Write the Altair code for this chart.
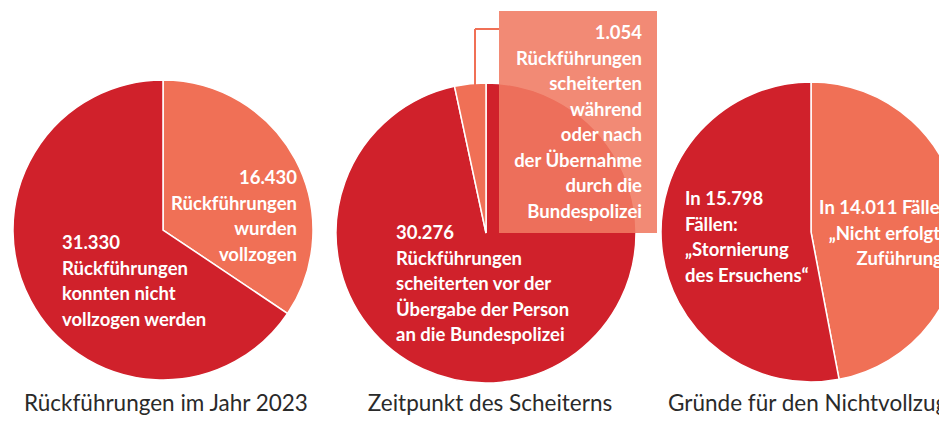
import altair as alt
import pandas as pd

# ---- data ----
pie1_kind = ["vollzogen", "nicht vollzogen"]
pie1_values = [16430, 31330]

pie2_kind = ["vor Übergabe", "nach Übernahme"]
pie2_values = [30276, 1054]

pie3_kind = ["Nicht erfolgte Zuführung", "Stornierung des Ersuchens"]
pie3_values = [14011, 15798]

titles = ["Rückführungen im Jahr 2023", "Zeitpunkt des Scheiterns", "Gründe für den Nichtvollzug"]

label_pie1_a = "16.430\nRückführungen\nwurden\nvollzogen"
label_pie1_b = "31.330\nRückführungen\nkonnten nicht\nvollzogen werden"
label_pie2_a = "30.276\nRückführungen\nscheiterten vor der\nÜbergabe der Person\nan die Bundespolizei"
label_pie2_b = "1.054\nRückführungen\nscheiterten\nwährend\noder nach\nder Übernahme\ndurch die\nBundespolizei"
label_pie3_a = "In 15.798\nFällen:\n„Stornierung\ndes Ersuchens“"
label_pie3_b = "In 14.011 Fällen\n„Nicht erfolgte\nZuführung“"

RED = "#D0212B"
SALMON = "#F07056"
BOX = "#F07A62"
FONT = "Lato"
OFF = 8  # page margin

color_scale = alt.Scale(
    domain=["vollzogen", "nicht vollzogen", "vor Übergabe", "nach Übernahme",
            "Nicht erfolgte Zuführung", "Stornierung des Ersuchens"],
    range=[SALMON, RED, RED, SALMON, SALMON, RED],
)


def pie(kinds, values, cx, cy):
    df = pd.DataFrame({"kind": kinds, "value": values, "order": list(range(len(values)))})
    return alt.Chart(df).mark_arc(radius=150, stroke="white", strokeWidth=1.5).encode(
        theta=alt.Theta("value:Q", stack=True),
        order=alt.Order("order:Q"),
        color=alt.Color("kind:N", scale=color_scale, legend=None),
        x=alt.value(cx - OFF),
        y=alt.value(cy - OFF),
    )


def label(text, x, y, align="left", size=18.5, weight="bold", color="white", lh=25.5):
    df = pd.DataFrame({"t": [text]})
    return alt.Chart(df).mark_text(
        align=align, baseline="alphabetic", font=FONT, fontSize=size,
        fontWeight=weight, color=color, lineBreak="\n", lineHeight=lh,
    ).encode(text="t:N", x=alt.value(x - OFF), y=alt.value(y - OFF))


p1 = pie(pie1_kind, pie1_values, 163, 230)
p2 = pie(pie2_kind, pie2_values, 486, 233)
p3 = pie(pie3_kind, pie3_values, 811, 232)

box = alt.Chart(pd.DataFrame({"a": [0]})).mark_rect(fill=BOX, opacity=0.88).encode(
    x=alt.value(499 - OFF), x2=alt.value(657 - OFF),
    y=alt.value(11 - OFF), y2=alt.value(233 - OFF),
)
conn_v = alt.Chart(pd.DataFrame({"a": [0]})).mark_rule(color=SALMON, strokeWidth=2).encode(
    x=alt.value(475 - OFF), y=alt.value(29 - OFF), y2=alt.value(86 - OFF),
)
conn_h = alt.Chart(pd.DataFrame({"a": [0]})).mark_rule(color=SALMON, strokeWidth=2).encode(
    x=alt.value(475 - OFF), x2=alt.value(499 - OFF), y=alt.value(29 - OFF),
)

texts = [
    label(label_pie1_a, 297, 184, align="right"),
    label(label_pie1_b, 62, 249),
    label(label_pie2_a, 396, 239),
    label(label_pie2_b, 642, 39, align="right"),
    label(label_pie3_a, 685, 205),
    label(label_pie3_b, 950, 214, align="right"),
    label(titles[0], 166, 411, align="center", size=22.5, weight="normal", color="#2a2a2a"),
    label(titles[1], 490, 411, align="center", size=22.5, weight="normal", color="#2a2a2a"),
    label(titles[2], 668, 411, align="left", size=22.5, weight="normal", color="#2a2a2a"),
]

chart = alt.layer(p1, p2, p3, box, conn_v, conn_h, *texts).resolve_scale(
    theta="independent"
).properties(
    width=931, height=408, padding=0,
    autosize=alt.AutoSizeParams(type="none"),
).configure_view(stroke=None)

chart.save("out.html", embed_options={"renderer": "svg", "actions": False})
